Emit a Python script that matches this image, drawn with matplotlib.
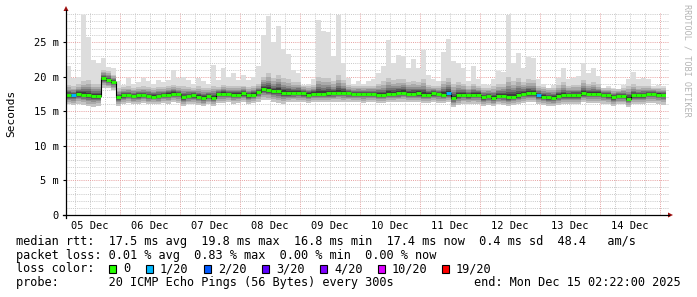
import numpy as np
import matplotlib
matplotlib.use("Agg")
import matplotlib.pyplot as plt
from matplotlib.lines import Line2D
from matplotlib.patches import Rectangle, Polygon

# ---------------- data (2-hour bins, Dec 5 02:22 -> Dec 15 02:22) ----------------
start_day = 2.3667 / 24.0          # days after Dec 05 00:00
bin_hours = 2.0
day_labels = ['05 Dec', '06 Dec', '07 Dec', '08 Dec', '09 Dec',
              '10 Dec', '11 Dec', '12 Dec', '13 Dec', '14 Dec']

median_ms = [17.3, 17.3, 17.5, 17.4, 17.3, 17.2, 17.2, 19.8, 19.5, 19.2,
             17.0, 17.3, 17.3, 17.2, 17.3, 17.3, 17.2, 17.1, 17.2, 17.3,
             17.4, 17.5, 17.5, 17.0, 17.2, 17.3, 17.1, 16.9, 17.2, 16.9,
             17.5, 17.5, 17.5, 17.4, 17.4, 17.6, 17.3, 17.4, 17.8, 18.2,
             18.1, 17.9, 17.9, 17.7, 17.6, 17.6, 17.7, 17.6, 17.4, 17.5,
             17.5, 17.5, 17.6, 17.6, 17.7, 17.7, 17.6, 17.5, 17.5, 17.5,
             17.5, 17.5, 17.4, 17.3, 17.5, 17.5, 17.6, 17.7, 17.5, 17.5,
             17.6, 17.4, 17.4, 17.6, 17.5, 17.4, 17.6, 16.9, 17.3, 17.4,
             17.3, 17.4, 17.4, 17.0, 17.2, 16.9, 17.2, 17.2, 17.0, 17.1,
             17.3, 17.5, 17.6, 17.6, 17.3, 17.1, 17.0, 16.9, 17.2, 17.3,
             17.3, 17.3, 17.3, 17.6, 17.5, 17.5, 17.5, 17.4, 17.3, 17.0,
             17.2, 17.2, 16.8, 17.3, 17.3, 17.3, 17.5, 17.5, 17.4, 17.4]

smoke_max = [21.5, 19.8, 20.0, 28.9, 25.7, 22.4, 22.0, 22.7, 21.4, 21.2,
             19.3, 18.8, 19.8, 19.0, 19.2, 19.8, 19.3, 19.0, 19.5, 19.2,
             19.5, 21.0, 19.8, 20.0, 19.5, 19.0, 19.8, 19.4, 19.0, 21.7,
             19.5, 21.2, 20.0, 20.5, 19.5, 20.3, 19.5, 20.0, 21.5, 26.0,
             28.8, 25.0, 27.3, 24.0, 23.2, 21.0, 20.5, 18.8, 19.0, 19.6,
             28.2, 26.6, 26.5, 23.0, 28.9, 22.0, 19.8, 19.0, 19.3, 19.0,
             19.3, 19.6, 20.5, 21.5, 25.3, 21.9, 23.1, 23.0, 21.3, 22.5,
             21.3, 23.8, 20.3, 19.6, 19.3, 23.5, 25.4, 22.2, 22.0, 21.3,
             19.3, 21.5, 19.6, 19.0, 18.8, 19.6, 20.8, 20.6, 28.9, 22.0,
             23.4, 21.3, 22.9, 22.7, 19.6, 19.0, 18.3, 18.8, 19.8, 21.3,
             19.6, 19.8, 20.1, 22.0, 20.5, 21.3, 20.1, 18.3, 18.6, 18.3,
             18.0, 18.8, 19.6, 20.6, 19.6, 19.8, 19.6, 18.6, 18.8, 18.6]

smoke_hi = [18.8, 18.6, 18.9, 19.3, 19.5, 19.0, 19.0, 21.0, 20.8, 20.3,
            18.3, 18.5, 18.6, 18.4, 18.5, 18.6, 18.5, 18.4, 18.5, 18.5,
            18.6, 18.8, 18.6, 18.6, 18.5, 18.4, 18.6, 18.4, 18.3, 18.7,
            18.5, 18.8, 18.6, 18.7, 18.6, 18.7, 18.5, 18.6, 18.9, 20.0,
            20.5, 19.8, 20.3, 19.8, 19.6, 19.2, 19.2, 18.7, 18.7, 18.8,
            20.0, 19.8, 19.8, 19.3, 20.2, 19.5, 18.8, 18.6, 18.7, 18.6,
            18.7, 18.7, 19.0, 19.3, 19.8, 19.5, 19.6, 19.6, 19.2, 19.4,
            19.2, 19.6, 18.8, 18.6, 18.6, 19.4, 19.8, 19.0, 19.2, 19.0,
            18.6, 19.0, 18.6, 18.4, 18.4, 18.6, 18.9, 19.0, 20.0, 19.4,
            19.8, 19.2, 19.6, 19.5, 18.7, 18.5, 18.4, 18.4, 18.8, 19.2,
            18.7, 18.8, 18.8, 19.5, 19.0, 19.2, 18.9, 18.3, 18.4, 18.2,
            18.2, 18.4, 18.6, 18.9, 18.6, 18.7, 18.6, 18.4, 18.4, 18.3]

smoke_lo = [16.0, 15.9, 16.1, 15.9, 15.7, 15.6, 15.8, 18.4, 18.3, 18.0,
            15.7, 16.1, 16.2, 16.0, 16.1, 16.2, 16.0, 16.1, 16.0, 16.2,
            16.1, 16.3, 16.2, 15.8, 16.0, 16.1, 15.9, 15.7, 16.0, 15.8,
            16.2, 16.2, 16.3, 16.1, 16.2, 16.3, 16.1, 16.2, 16.4, 16.6,
            16.6, 16.4, 16.2, 16.1, 16.3, 16.4, 16.3, 16.3, 16.2, 16.3,
            16.3, 16.4, 16.3, 16.4, 16.4, 16.3, 16.4, 16.3, 16.3, 16.2,
            16.3, 16.3, 16.2, 16.2, 16.3, 16.3, 16.4, 16.4, 16.3, 16.3,
            16.3, 16.2, 16.2, 16.3, 16.2, 16.2, 16.3, 15.6, 15.9, 16.1,
            16.1, 16.1, 16.0, 15.8, 15.9, 15.7, 16.0, 15.9, 15.8, 15.9,
            16.1, 16.2, 16.3, 16.3, 16.0, 15.9, 15.8, 15.7, 15.9, 16.0,
            16.1, 16.1, 16.1, 16.3, 16.2, 16.2, 16.2, 16.1, 16.0, 15.8,
            16.0, 16.0, 15.6, 16.0, 16.0, 16.1, 16.2, 16.2, 16.1, 15.9]

loss_1of20_bins = [1, 76, 94]   # bins where median shows 1/20 loss

y_ticks = [0, 5, 10, 15, 20, 25]
y_tick_labels = ['0', '5 m', '10 m', '15 m', '20 m', '25 m']

loss_labels = ['0', '1/20', '2/20', '3/20', '4/20', '10/20', '19/20']
loss_colors = ['#26ff00', '#00b8ff', '#0059ff', '#5e00ff', '#7e00ff', '#dd00ff', '#ff0000']

legend_lines = [
    'median rtt:  17.5 ms avg  19.8 ms max  16.8 ms min  17.4 ms now  0.4 ms sd  48.4   am/s',
    'packet loss: 0.01 % avg  0.83 % max  0.00 % min  0.00 % now',
    'loss color:',
    'probe:       20 ICMP Echo Pings (56 Bytes) every 300s',
]
end_text = 'end: Mon Dec 15 02:22:00 2025'

# ---------------- figure ----------------
W, H = 697, 297
fig = plt.figure(figsize=(W / 100, H / 100), dpi=100)
fig.patch.set_facecolor('white')
MONO = 'DejaVu Sans Mono'
LEG_FS = 8.55

def fx(px):
    return px / W

def fy(py):
    return 1 - py / H

px_per_ms = 6.92
ax_left, ax_right, ax_bottom, ax_top = 66, 666, 215, 13
ax = fig.add_axes([fx(ax_left), fy(ax_bottom), (ax_right - ax_left) / W, (ax_bottom - ax_top) / H])
n = len(median_ms)
t_edges = start_day + np.arange(n + 1) * bin_hours / 24.0
x0, x1 = t_edges[0], t_edges[-1]
ymax = (ax_bottom - ax_top) / px_per_ms
ax.set_xlim(x0, x1)
ax.set_ylim(0, ymax)
for s in ax.spines.values():
    s.set_visible(False)
ax.set_facecolor('white')

# grid
minor_col = '#c8c8c8'
major_col = '#e6a0a0'
dots = (0, (1, 1.2))
for k in np.arange(0, 11.01, 0.25):
    if x0 < k < x1 + 0.02:
        is_major = abs(k - round(k)) < 1e-9
        ax.axvline(k, color=major_col if is_major else minor_col, lw=0.7,
                   ls=dots, zorder=1, clip_on=False, ymax=1.0)
for v in range(1, 30):
    if v < ymax:
        is_major = v % 5 == 0
        ax.axhline(v, color=major_col if is_major else minor_col, lw=0.7,
                   ls=dots, zorder=1, xmax=1.004, clip_on=False)

# smoke
med = np.array(median_ms)
mx = np.array(smoke_max)
hi = np.array(smoke_hi)
lo = np.array(smoke_lo)

def ext(a):
    return np.append(a, a[-1])

ax.fill_between(t_edges, ext(lo), ext(mx), step='post', color='#dddddd', lw=0, zorder=2)
fracs = [1.0, 0.75, 0.55, 0.4, 0.27, 0.16]
greys = ['#c4c4c4', '#aaaaaa', '#909090', '#747474', '#585858', '#3c3c3c']
for f, g in zip(fracs, greys):
    ax.fill_between(t_edges, ext(med - f * (med - lo)), ext(med + f * (hi - med)),
                    step='post', color=g, lw=0, zorder=3)

# median
ax.step(t_edges, ext(med), where='post', color='black', lw=0.8, zorder=4)
cols = [loss_colors[1] if i in loss_1of20_bins else loss_colors[0] for i in range(n)]
ax.hlines(med, t_edges[:-1], t_edges[1:], colors=cols, lw=2.1, zorder=5)

# ticks
day_mid = np.arange(len(day_labels)) + 0.5
ax.set_xticks(day_mid, labels=day_labels)
ax.set_yticks(y_ticks, labels=y_tick_labels)
ax.tick_params(axis='x', length=0, pad=4.5, labelsize=7.5)
ax.tick_params(axis='y', length=2.5, width=0.8, pad=2.5, labelsize=7.5)
for lab in ax.get_xticklabels() + ax.get_yticklabels():
    lab.set_family(MONO)

# axis lines with arrows (figure pixel coordinates)
axis_col = 'black'
arrow_col = '#a01010'
fig.add_artist(Line2D([fx(66), fx(66)], [fy(218), fy(10)], color=axis_col, lw=0.9))
fig.add_artist(Line2D([fx(63), fx(669)], [fy(215), fy(215)], color=axis_col, lw=0.9))
fig.add_artist(Polygon([[fx(63.5), fy(11)], [fx(68.5), fy(11)], [fx(66), fy(6)]],
                       closed=True, color=arrow_col, lw=0))
fig.add_artist(Polygon([[fx(668), fy(212.5)], [fx(668), fy(217.5)], [fx(673), fy(215)]],
                       closed=True, color=arrow_col, lw=0))

# y label & watermark
fig.text(fx(11), fy(113), 'Seconds', rotation=90, ha='center', va='center',
         fontsize=8, family=MONO)
fig.text(fx(687.5), fy(4), 'RRDTOOL / TOBI OETIKER', rotation=270, ha='center', va='top',
         fontsize=6.1, family=MONO, color='#b4b4b4')

# legend text
row_y = [241.5, 255.0, 268.5, 282.5]
for line, yy in zip(legend_lines, row_y):
    fig.text(fx(16), fy(yy), line, ha='left', va='center', fontsize=LEG_FS, family=MONO)
fig.text(fx(681), fy(row_y[3]), end_text, ha='right', va='center', fontsize=LEG_FS, family=MONO)

sq_x = [109, 146, 204, 262, 320, 378, 442]
for xx, lab, c in zip(sq_x, loss_labels, loss_colors):
    fig.add_artist(Rectangle((fx(xx), fy(row_y[2] + 4)), 7 / W, 8 / H,
                             facecolor=c, edgecolor='black', lw=0.8))
    fig.text(fx(xx + 14), fy(row_y[2]), lab, ha='left', va='center', fontsize=LEG_FS, family=MONO)

fig.savefig('out.png', dpi=100, facecolor='white')
